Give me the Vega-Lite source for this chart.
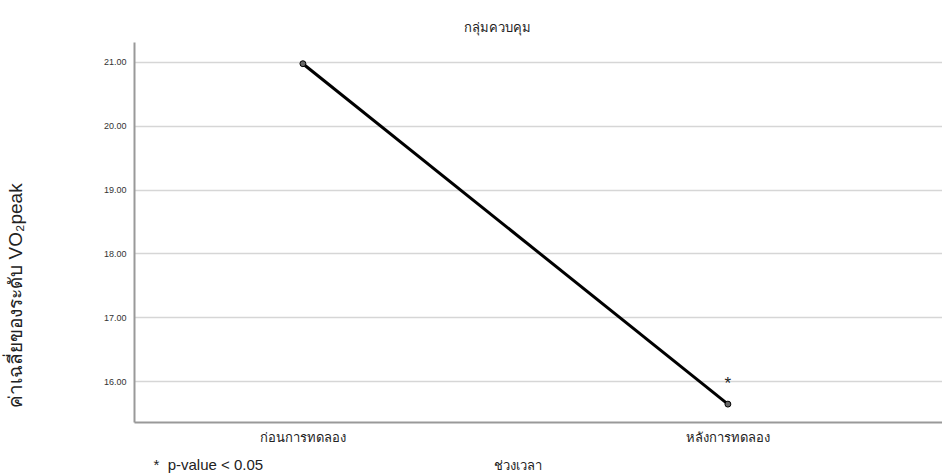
{
  "$schema": "https://vega.github.io/schema/vega-lite/v6.json",
  "width": 808,
  "height": 380,
  "autosize": "none",
  "padding": {"left": 134, "top": 42, "right": 0, "bottom": 54},
  "background": "white",
  "config": {"view": {"stroke": null}, "font": "Liberation Sans"},
  "title": {"text": "กลุ่มควบคุม", "fontSize": 13, "fontWeight": "normal", "color": "#222", "dx": -41, "offset": 0},
  "data": {"values": [
    {"time": "ก่อนการทดลอง", "vo2": 20.97, "sig": ""},
    {"time": "หลังการทดลอง", "vo2": 15.64, "sig": "*"}
  ]},
  "layer": [
    {"mark": {"type": "line", "color": "black", "strokeWidth": 3},
      "encoding": {
        "x": {"field": "time", "type": "nominal", "sort": null,
          "scale": {"type": "point", "padding": 0.4506, "align": 0.441},
          "axis": {"orient": "bottom", "title": "ช่วงเวลา", "labelAngle": 0, "labelFontSize": 13, "labelColor": "#222", "labelPadding": 9, "ticks": false, "domainColor": "#999", "domainWidth": 2, "grid": false,
            "titleFontSize": 13, "titleFontWeight": "normal", "titleColor": "#222", "titleX": 383, "titleY": 43, "titleBaseline": "middle"}},
        "y": {"field": "vo2", "type": "quantitative",
          "scale": {"domain": [15.36, 21.31], "nice": false, "zero": false},
          "axis": {"title": "ค่าเฉลี่ยของระดับ VO₂peak", "values": [16, 17, 18, 19, 20, 21], "format": ".2f", "labelFontSize": 9, "labelColor": "#333", "labelPadding": 8, "ticks": false, "domainColor": "#999", "domainWidth": 2, "gridColor": "#d6d6d6", "gridWidth": 1.5,
            "titleFontSize": 19, "titleFontWeight": "normal", "titleColor": "#222", "titleX": -119, "titleY": 253, "titleAngle": -90, "titleAlign": "center", "titleBaseline": "middle"}}
      }},
    {"mark": {"type": "point", "filled": true, "color": "#666", "stroke": "black", "strokeWidth": 1, "size": 35, "opacity": 1},
      "encoding": {
        "x": {"field": "time", "type": "nominal", "sort": null, "axis": null},
        "y": {"field": "vo2", "type": "quantitative"}
      }},
    {"mark": {"type": "text", "fontSize": 17, "dy": -20, "baseline": "middle", "color": "#222"},
      "encoding": {
        "x": {"field": "time", "type": "nominal", "sort": null, "axis": null},
        "y": {"field": "vo2", "type": "quantitative"},
        "text": {"field": "sig"}
      }},
    {"mark": {"type": "text", "opacity": 0},
      "encoding": {
        "text": {"field": "sig"},
        "x": {"field": "time", "type": "nominal", "sort": null,
          "axis": {"orient": "bottom", "title": "*\u00a0\u00a0p-value < 0.05", "labels": false, "ticks": false, "domain": false, "grid": false, "titleFontSize": 15, "titleFontWeight": "normal", "titleColor": "#222", "titleX": 19, "titleY": 42, "titleAlign": "left", "titleBaseline": "middle"}},
        "y": {"field": "vo2", "type": "quantitative"}
      }}
  ],
  "resolve": {"axis": {"x": "independent"}}
}
